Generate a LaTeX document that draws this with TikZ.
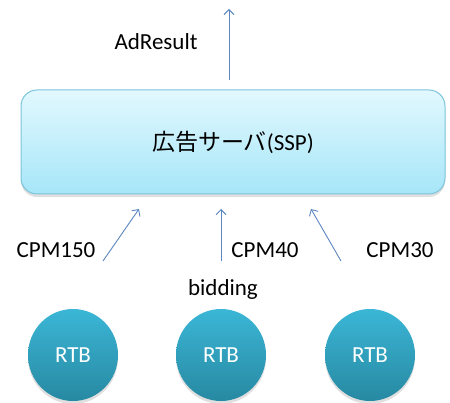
\documentclass[tikz,border=0pt]{standalone}
\usepackage{fontspec}
\setmainfont{Carlito}
\newfontfamily\jp{Noto Sans CJK JP}
\usetikzlibrary{shadows,arrows.meta,shapes.geometric}
\definecolor{arrowblue}{HTML}{5B86C0}
\definecolor{boxtop}{HTML}{E2F8FE}
\definecolor{boxbot}{HTML}{A6E6F8}
\definecolor{boxedge}{HTML}{7CC4DA}
\definecolor{rtbtop}{HTML}{3BB6D6}
\definecolor{rtbbot}{HTML}{2789A2}
\tikzset{
  conn/.style={draw=arrowblue, line width=0.9pt, -{Straight Barb[length=5pt,width=10pt]}},
  lbl/.style={font=\fontsize{23}{27}\selectfont, text=black},
  server/.style={draw=boxedge, line width=1pt, rounded corners=16pt, top color=boxtop, bottom color=boxbot,
    minimum width=424pt, minimum height=104pt, inner sep=0pt,
    drop shadow={opacity=0.25, shadow xshift=0pt, shadow yshift=-3pt}},
  rtb/.style={ellipse, top color=rtbtop, bottom color=rtbbot, draw=none,
    minimum width=90pt, minimum height=92pt, inner sep=0pt, text=white,
    font=\fontsize{23}{27}\selectfont,
    drop shadow={opacity=0.25, shadow xshift=0pt, shadow yshift=-3pt}},
}
\begin{document}
\begin{tikzpicture}[x=1pt,y=-1pt]
\useasboundingbox (0,0) rectangle (450,403);
\node[server] (srv) at (233,142) {\fontsize{23}{27}\selectfont{\jp 広告サーバ}(SSP)};
\node[rtb] (r1) at (73,355) {RTB};
\node[rtb] (r2) at (221,355) {RTB};
\node[rtb] (r3) at (370,355) {RTB};
\node[lbl] (ad) at (156,42) {AdResult};
\node[lbl] (c1) at (56,250) {CPM150};
\node[lbl] (c2) at (265,250) {CPM40};
\node[lbl] (c3) at (400,250) {CPM30};
\node[lbl] (bid) at (223,289) {bidding};
\coordinate (o0) at (229,80);
\coordinate (t0) at (229,9);
\coordinate (s1) at (103,261);
\coordinate (e1) at (139,209);
\coordinate (s2) at (221,261);
\coordinate (e2) at (221,209);
\coordinate (s3) at (341,261);
\coordinate (e3) at (311,209);
\draw[conn] (o0) -- (t0);
\draw[conn] (s1) -- (e1);
\draw[conn] (s2) -- (e2);
\draw[conn] (s3) -- (e3);
\end{tikzpicture}
\end{document}
